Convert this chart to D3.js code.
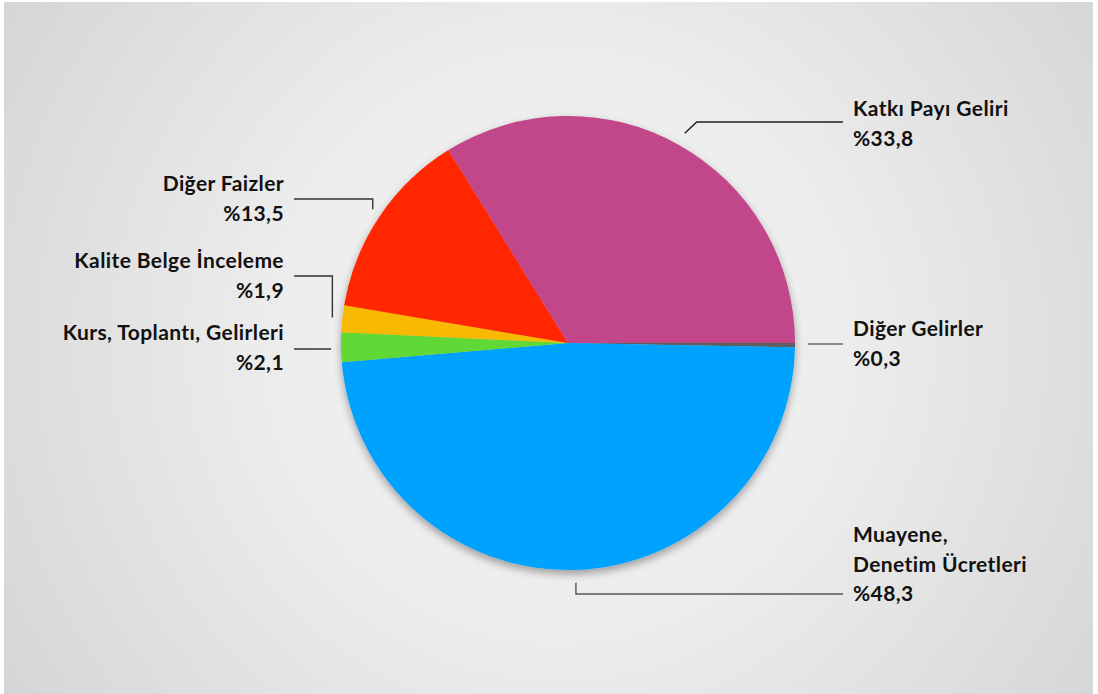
<!DOCTYPE html>
<html>
<head>
<meta charset="utf-8">
<script src="https://cdn.jsdelivr.net/npm/d3@7"></script>
<style>
  html, body { margin: 0; padding: 0; background: #ffffff; }
  svg { display: block; }
</style>
</head>
<body>
<svg id="chart" width="1098" height="694"></svg>
<script>
// ---- data ----
const categories = ["Diğer Gelirler", "Muayene, Denetim Ücretleri", "Kurs, Toplantı, Gelirleri", "Kalite Belge İnceleme", "Diğer Faizler", "Katkı Payı Geliri"];
const values = [0.3, 48.3, 2.1, 1.9, 13.5, 33.8];
const valueLabels = ["%0,3", "%48,3", "%2,1", "%1,9", "%13,5", "%33,8"];
const nameLines = [["Diğer Gelirler"], ["Muayene,", "Denetim Ücretleri"], ["Kurs, Toplantı, Gelirleri"], ["Kalite Belge İnceleme"], ["Diğer Faizler"], ["Katkı Payı Geliri"]];
const colors = ["#5E5E5E", "#00A2FF", "#61D836", "#F8BA00", "#FF2600", "#C2478A"];

// ---- layout ----
const W = 1098, H = 694;
const cx = 568, cy = 343, R = 227, Rlead = 240;
const svg = d3.select("#chart");
const defs = svg.append("defs");

const bg = defs.append("radialGradient").attr("id", "bg")
  .attr("gradientUnits", "userSpaceOnUse")
  .attr("cx", 560).attr("cy", 345).attr("r", 660);
bg.append("stop").attr("offset", 0).attr("stop-color", "#f6f6f6");
bg.append("stop").attr("offset", 0.45).attr("stop-color", "#ececec");
bg.append("stop").attr("offset", 1).attr("stop-color", "#d5d5d5");

const f = defs.append("filter").attr("id", "shadow")
  .attr("x", "-20%").attr("y", "-20%").attr("width", "140%").attr("height", "140%");
f.append("feDropShadow").attr("dx", 0).attr("dy", 4).attr("stdDeviation", 4)
  .attr("flood-color", "#000").attr("flood-opacity", 0.35);

svg.append("rect").attr("x", 4).attr("y", 2).attr("width", 1089).attr("height", 692)
  .attr("fill", "url(#bg)");

const pie = d3.pie().value(d => d).sort(null)
  .startAngle(Math.PI / 2).endAngle(Math.PI / 2 + 2 * Math.PI);
const arcs = pie(values);
const arc = d3.arc().innerRadius(0).outerRadius(R);

const g = svg.append("g").attr("transform", `translate(${cx},${cy})`);
g.append("g").attr("filter", "url(#shadow)")
  .selectAll("path").data(arcs).join("path")
  .attr("d", arc).attr("fill", (d, i) => colors[i]);

// ---- labels and leaders ----
const leadPt = d => {
  const a = (d.startAngle + d.endAngle) / 2;
  return [cx + Rlead * Math.sin(a), cy - Rlead * Math.cos(a)];
};
const labelLayout = [
  { x: 853, y: 336, anchor: "start", route: p => [[p[0], 344], [843, 344]], color: "#6a6a6a" },
  { x: 853, y: 542, anchor: "start", route: p => [[p[0], p[1]], [p[0], 594], [843, 594]], color: "#555" },
  { x: 284, y: 340, anchor: "end", route: p => [[p[0] + 3, 349], [294, 349]], color: "#333" },
  { x: 284, y: 268, anchor: "end", route: p => [[p[0] + 3, p[1]], [p[0] + 3, 276], [294, 276]], color: "#333" },
  { x: 284, y: 191, anchor: "end", route: p => [[p[0] + 4, p[1]], [p[0] + 4, 199], [294, 199]], color: "#333" },
  { x: 853, y: 116, anchor: "start", route: p => [[p[0], p[1]], [p[0] + 12, 122], [843, 122]], color: "#222" }
];

const lineH = 29.5;
arcs.forEach((d, i) => {
  const L = labelLayout[i];
  const p = leadPt(d);
  svg.append("path")
    .attr("d", d3.line()(L.route(p)))
    .attr("fill", "none").attr("stroke", L.color).attr("stroke-width", 1.4);
  const t = svg.append("text")
    .attr("x", L.x).attr("y", L.y)
    .attr("text-anchor", L.anchor)
    .attr("font-family", "Lato, 'Open Sans', sans-serif")
    .attr("font-weight", 700)
    .attr("font-size", 21)
    .attr("letter-spacing", 0.4)
    .attr("fill", "#111");
  const lines = nameLines[i].concat([valueLabels[i]]);
  lines.forEach((s, k) => {
    t.append("tspan").attr("x", L.x).attr("y", L.y + k * lineH).text(s);
  });
});
</script>
</body>
</html>
